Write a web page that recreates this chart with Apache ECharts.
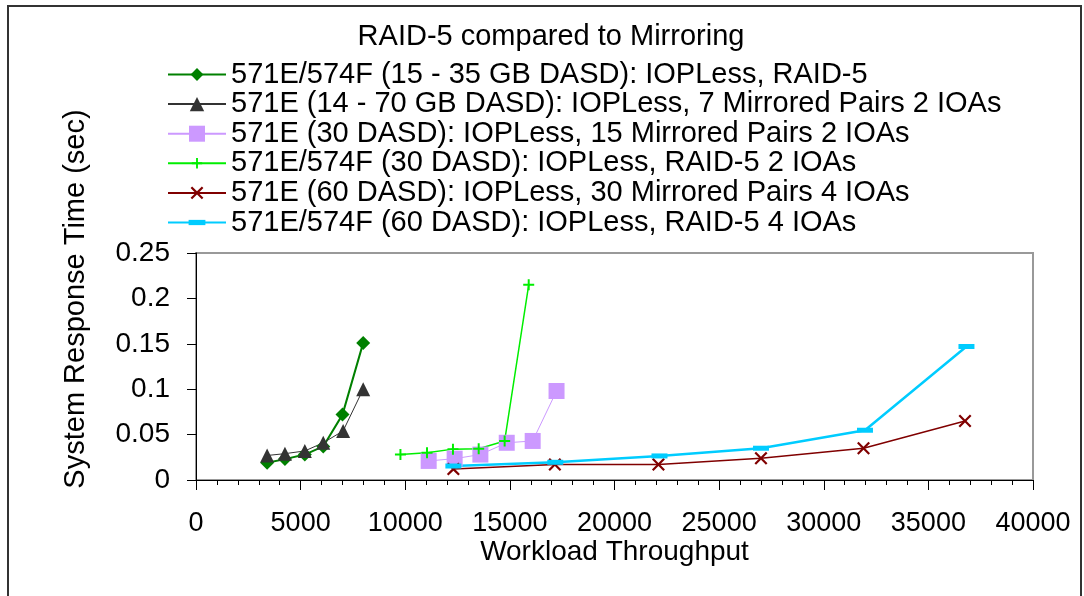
<!DOCTYPE html>
<html>
<head>
<meta charset="utf-8">
<script src="https://cdn.jsdelivr.net/npm/echarts@6/dist/echarts.min.js"></script>
<style>html,body{margin:0;padding:0;background:#fff}#c{width:1084px;height:596px}</style>
</head>
<body>
<div id="c"></div>
<script>
// ---- data ----
const chartTitle = 'RAID-5 compared to Mirroring';
const xAxisName = 'Workload Throughput';
const yAxisName = 'System Response Time (sec)';
const xTicks = [0, 5000, 10000, 15000, 20000, 25000, 30000, 35000, 40000];
const yTicks = [0, 0.05, 0.1, 0.15, 0.2, 0.25];

const seriesNames = [
  '571E/574F (15 - 35 GB DASD): IOPLess, RAID-5',
  '571E (14 - 70 GB DASD): IOPLess, 7 Mirrored Pairs 2 IOAs',
  '571E (30 DASD): IOPLess, 15 Mirrored Pairs 2 IOAs',
  '571E/574F (30 DASD): IOPLess, RAID-5 2 IOAs',
  '571E (60 DASD): IOPLess, 30 Mirrored Pairs 4 IOAs',
  '571E/574F (60 DASD): IOPLess, RAID-5 4 IOAs'
];

const x1 = [3400, 4250, 5200, 6080, 7000, 7990];
const y1 = [0.019, 0.023, 0.028, 0.037, 0.072, 0.151];
const x2 = [3400, 4250, 5200, 6080, 7030, 7990];
const y2 = [0.027, 0.029, 0.032, 0.041, 0.054, 0.100];
const x3 = [11120, 12360, 13590, 14850, 16090, 17230];
const y3 = [0.021, 0.0235, 0.028, 0.041, 0.043, 0.098];
const x4 = [9770, 11040, 12280, 13510, 14750, 15900];
const y4 = [0.028, 0.030, 0.034, 0.0345, 0.043, 0.215];
const x5 = [12300, 17150, 22100, 27000, 31900, 36750];
const y5 = [0.012, 0.017, 0.017, 0.024, 0.035, 0.065];
const x6 = [12300, 17170, 22150, 27000, 31970, 36820];
const y6 = [0.0154, 0.0195, 0.0265, 0.035, 0.0548, 0.147];

// ---- build ----
const zip = (xs, ys) => xs.map((x, i) => [x, ys[i]]);
const FONT = '"Liberation Sans", Arial, sans-serif';
const plusPath = 'path://M4.1,0H5.9V4.1H10V5.9H5.9V10H4.1V5.9H0V4.1H4.1Z';
const crossPath = 'path://M0,1.2L1.2,0L5,3.8L8.8,0L10,1.2L6.2,5L10,8.8L8.8,10L5,6.2L1.2,10L0,8.8L3.8,5Z';
// square bounding box (via move-to points) with a thin horizontal bar in the middle
const dashPath = 'path://M0,0M16,16M0,5.5H16V10.5H0Z';

const styles = [
  {color: '#008000', width: 2, symbol: 'diamond', size: 14, legendH: 16},
  {color: '#333333', width: 1, symbol: 'triangle', size: 14, legendH: 18},
  {color: '#CC99FF', width: 1, symbol: 'rect', size: 16, legendH: 20},
  {color: '#00EE00', width: 1.5, symbol: plusPath, size: 11, legendH: 13},
  {color: '#800000', width: 1.5, symbol: crossPath, size: 13, legendH: 16},
  {color: '#00CCFF', width: 2.5, symbol: dashPath, size: 16, legendH: 21}
];
const xs = [x1, x2, x3, x4, x5, x6];
const ys = [y1, y2, y3, y4, y5, y6];

const rowCenters = [74.5, 104.1, 133.7, 163.3, 192.9, 222.5];

const series = seriesNames.map((name, i) => ({
  name: name,
  type: 'line',
  data: zip(xs[i], ys[i]),
  symbol: styles[i].symbol,
  symbolSize: styles[i].size,
  showSymbol: true,
  lineStyle: {color: styles[i].color, width: styles[i].width},
  itemStyle: {color: styles[i].color},
  emphasis: {disabled: true},
  animation: false
}));

const legends = seriesNames.map((name, i) => ({
  data: [name],
  orient: 'vertical',
  left: 167,
  top: rowCenters[i] - 15,
  padding: 0,
  itemWidth: 58,
  itemHeight: styles[i].legendH,
  selectedMode: false,
  textStyle: {fontFamily: FONT, fontSize: 29, color: '#000', lineHeight: 30}
}));

const chart = echarts.init(document.getElementById('c'), null, {renderer: 'canvas'});
chart.setOption({
  backgroundColor: '#fff',
  animation: false,
  legend: legends,
  grid: {left: 196, right: 51, top: 253, bottom: 116, show: true, borderColor: '#999', borderWidth: 2, backgroundColor: 'transparent'},
  xAxis: {
    type: 'value', min: xTicks[0], max: xTicks[xTicks.length - 1], interval: xTicks[1] - xTicks[0],
    name: xAxisName, nameLocation: 'middle', nameGap: 55,
    nameTextStyle: {fontFamily: FONT, fontSize: 28, color: '#000'},
    axisLine: {show: true, lineStyle: {color: '#000', width: 1}},
    axisTick: {show: true, length: 10, lineStyle: {color: '#000'}},
    minorTick: {show: true, splitNumber: 5, length: 5, lineStyle: {color: '#000'}},
    axisLabel: {fontFamily: FONT, fontSize: 27, color: '#000', margin: 30, formatter: v => String(v)},
    splitLine: {show: false}
  },
  yAxis: {
    type: 'value', min: yTicks[0], max: yTicks[yTicks.length - 1], interval: yTicks[1] - yTicks[0],
    axisLine: {show: true, lineStyle: {color: '#000', width: 1}},
    axisTick: {show: true, length: 9, lineStyle: {color: '#000'}},
    axisLabel: {fontFamily: FONT, fontSize: 28, color: '#000', margin: 26, formatter: v => String(+v.toFixed(2))},
    splitLine: {show: false}
  },
  graphic: [
    {type: 'rect', z: 100, silent: true, shape: {x: 8, y: 6, width: 1073, height: 600},
     style: {fill: 'none', stroke: '#333', lineWidth: 2}},
    {type: 'text', x: 551, y: 37, silent: true,
     style: {text: chartTitle, fontFamily: FONT, fontSize: 29, fill: '#000', align: 'center', verticalAlign: 'middle'}},
    {type: 'text', x: 76, y: 299, rotation: Math.PI / 2, silent: true,
     style: {text: yAxisName, fontFamily: FONT, fontSize: 29, fill: '#000', align: 'center', verticalAlign: 'middle'}}
  ],
  series: series
});
</script>
</body>
</html>
